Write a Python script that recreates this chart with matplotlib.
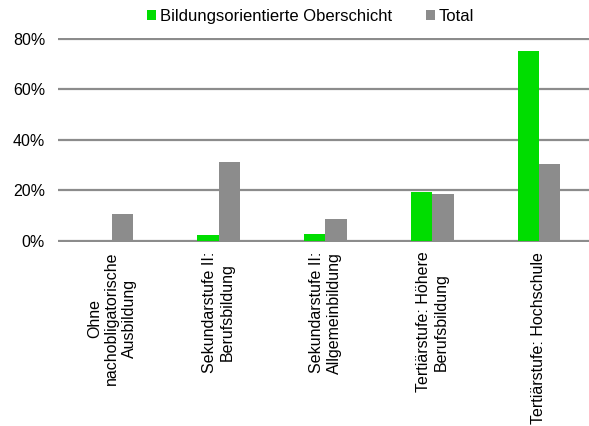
import matplotlib
matplotlib.use("Agg")
import matplotlib.pyplot as plt
import numpy as np

plt.rcParams['font.family'] = ['Liberation Sans', 'DejaVu Sans']

categories = ["Ohne\nnachobligatorische\nAusbildung",
              "Sekundarstufe II:\nBerufsbildung",
              "Sekundarstufe II:\nAllgemeinbildung",
              "Tertiärstufe: Höhere\nBerufsbildung",
              "Tertiärstufe: Hochschule"]
series_names = ["Bildungsorientierte Oberschicht", "Total"]
oberschicht = [0.0, 2.4, 2.5, 19.2, 75.2]
total = [10.6, 31.1, 8.7, 18.7, 30.3]
yticks = [0, 20, 40, 60, 80]
yticklabels = ["0%", "20%", "40%", "60%", "80%"]

green = "#00DD00"
gray = "#8C8C8C"

fig = plt.figure(figsize=(5.89, 4.26), dpi=100)
ax = fig.add_axes([58.3/589, 1-242/426, (592.4-58.3)/589, (242-37.7)/426])

x = np.arange(len(categories))
w = 0.2
b1 = ax.bar(x - w/2, oberschicht, w, color=green, edgecolor='none', label=series_names[0], zorder=3)
b2 = ax.bar(x + w/2, total, w, color=gray, edgecolor='none', label=series_names[1], zorder=3)

ax.set_xlim(-0.5, len(categories) - 0.5)
ax.set_ylim(-0.5, 80.5)
ax.set_yticks(yticks)
ax.set_yticklabels(yticklabels, fontsize=11.5, color='black')
ax.set_xticks(x)
ax.set_xticklabels(categories, rotation=90, ha='center', va='top', multialignment='center', fontsize=11.5, color='black')
ax.tick_params(axis='both', length=0)
ax.tick_params(axis='y', pad=9.5)
ax.tick_params(axis='x', pad=7)
ax.yaxis.grid(True, color='#8c8c8c', linewidth=1.6, zorder=0)
ax.set_axisbelow(True)
for s in ax.spines.values():
    s.set_visible(False)

fig.legend(handles=[b1, b2], loc='upper center', bbox_to_anchor=(310.5/589, 1 - 6/426), ncol=2,
           frameon=False, fontsize=12, handlelength=0.55, handleheight=0.55, handletextpad=0.25,
           columnspacing=2.0, borderaxespad=0, borderpad=0.2)

fig.savefig("out.png", dpi=100)
